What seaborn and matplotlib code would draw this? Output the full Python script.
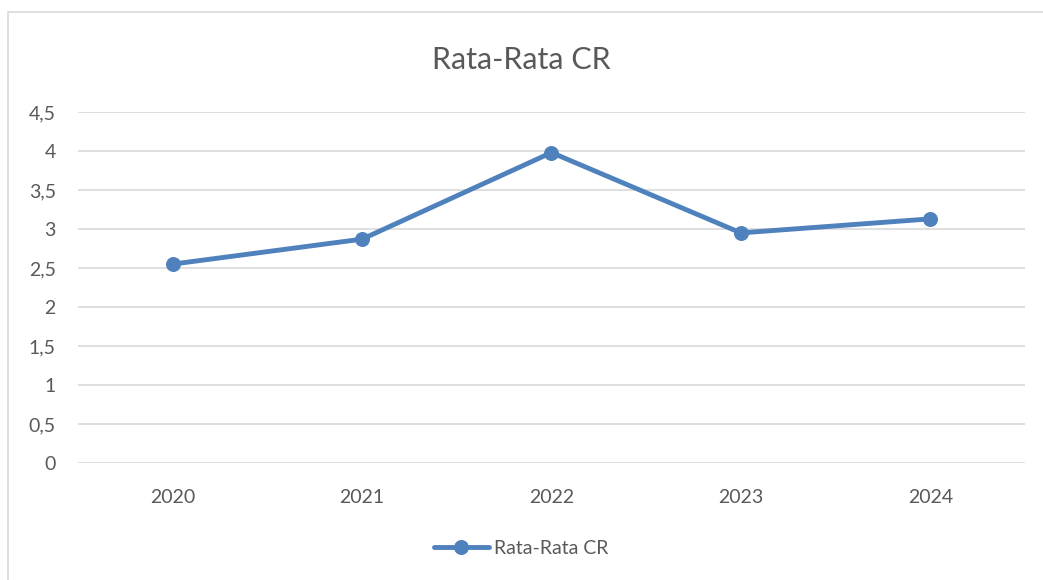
import pandas as pd
import matplotlib
matplotlib.use("Agg")
import matplotlib.pyplot as plt
import seaborn as sns
from matplotlib.patches import Rectangle

# data
years = ["2020", "2021", "2022", "2023", "2024"]
cr_values = [2.55, 2.87, 3.98, 2.95, 3.13]
y_ticks = [0, 0.5, 1, 1.5, 2, 2.5, 3, 3.5, 4, 4.5]
series_name = "Rata-Rata CR"

df = pd.DataFrame({"Tahun": years, series_name: cr_values})

sns.set_style("white")
plt.rcParams["font.family"] = ["Lato", "DejaVu Sans"]

blue = "#4F81BD"
grey_text = "#595959"

fig = plt.figure(figsize=(10.43, 5.8), dpi=100)
ax = fig.add_axes([0.0748, 0.2017, 0.9079, 0.6052])

# chart border (excel style)
fig.patches.append(Rectangle((8 / 1043, -0.1), 1.2, (580 - 12) / 580 + 0.1,
                             transform=fig.transFigure, fill=False,
                             edgecolor="#D9D9D9", linewidth=1.2, zorder=0))

sns.lineplot(data=df, x="Tahun", y=series_name, ax=ax, color=blue,
             linewidth=3.5, marker="o", markersize=10, markeredgecolor=blue,
             label=series_name, sort=False)

ax.set_xlim(-0.5, 4.5)
ax.set_ylim(0, 4.5)
ax.set_yticks(y_ticks)
ax.set_yticklabels([("%g" % v).replace(".", ",") for v in y_ticks])
ax.grid(axis="y", color="#D9D9D9", linewidth=1.2)
ax.set_axisbelow(True)
for s in ax.spines.values():
    s.set_visible(False)
ax.tick_params(axis="both", length=0, labelsize=14, labelcolor=grey_text)
ax.tick_params(axis="y", pad=16)
ax.tick_params(axis="x", pad=19)
ax.set_xlabel("")
ax.set_ylabel("")

fig.text(0.5, 1 - 60 / 580, "Rata-Rata CR", ha="center", va="center",
         fontsize=22, color=grey_text)

ax.legend(loc="center", bbox_to_anchor=(0.5, (580 - 548) / 580),
          bbox_transform=fig.transFigure, frameon=False, fontsize=14,
          labelcolor=grey_text, handlelength=2.8, handletextpad=0.3)

fig.savefig("out.png", dpi=100)
